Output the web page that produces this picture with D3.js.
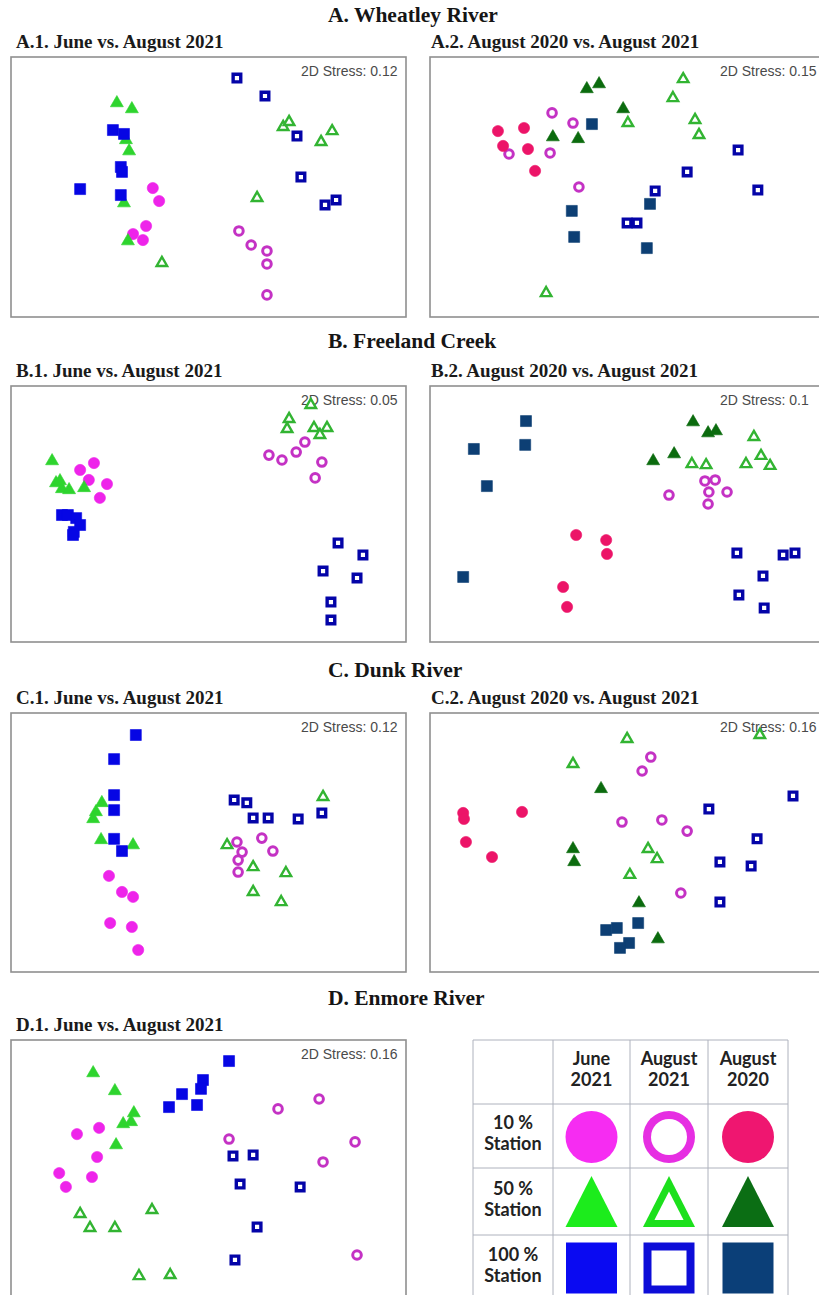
<!DOCTYPE html>
<html>
<head>
<meta charset="utf-8">
<script src="https://cdn.jsdelivr.net/npm/d3@7"></script>
<style>
  body { margin: 0; background: #fff; }
  svg { display: block; }
</style>
</head>
<body>
<script>
// ---- NMDS ordination coordinates (arbitrary units, 0-100 across each panel) ----
// Each entry: [group, [[x, y], ...]]

const wheatleyJuneAug = [
  ["jun21_10", [[35.9,49.6],[37.5,44.6],[34.2,35.0],[30.9,31.9],[33.4,29.6]]],
  ["aug21_10", [[57.7,33.1],[60.8,27.7],[64.8,25.4],[64.8,20.4],[64.8,8.5]]],
  ["jun21_50", [[26.8,82.3],[30.6,80.0],[29.9,63.8],[29.1,68.1],[28.6,43.8],[29.6,29.2]]],
  ["aug21_50", [[68.9,73.1],[70.4,75.0],[81.3,71.5],[78.5,67.3],[62.3,45.8],[38.2,20.8]]],
  ["jun21_100", [[25.8,71.9],[28.6,70.4],[27.8,57.7],[28.1,55.8],[17.5,49.2],[27.8,46.9]]],
  ["aug21_100", [[57.2,91.9],[64.3,85.0],[72.4,69.6],[73.4,53.8],[79.5,43.1],[82.3,45.0]]]
];

const wheatleyAugAug = [
  ["aug20_10", [[17.2,71.5],[23.8,72.7],[18.5,65.8],[24.8,64.6],[26.6,56.2]]],
  ["aug21_10", [[30.9,78.5],[36.2,74.6],[20.0,62.7],[30.4,63.1],[37.7,50.0]]],
  ["aug20_50", [[39.7,87.7],[42.8,89.6],[48.9,80.0],[31.1,69.2],[37.5,68.5]]],
  ["aug21_50", [[64.1,91.5],[61.5,84.2],[50.1,74.6],[67.1,75.8],[68.1,70.0],[29.4,9.2]]],
  ["aug20_100", [[41.0,74.2],[35.9,40.8],[36.5,30.8],[55.7,43.5],[54.9,26.5]]],
  ["aug21_100", [[78.0,64.2],[65.1,55.8],[57.0,48.5],[49.9,36.2],[52.4,36.2],[83.0,48.8]]]
];

const freelandJuneAug = [
  ["jun21_10", [[17.5,67.2],[21.0,69.9],[19.7,63.3],[24.3,61.7],[22.5,56.3]]],
  ["aug21_10", [[65.3,73.0],[68.6,71.1],[72.2,74.2],[74.4,78.1],[78.7,70.3],[77.0,64.1]]],
  ["jun21_50", [[10.4,70.7],[11.4,62.1],[12.9,59.8],[14.7,59.4],[18.5,60.2],[12.4,62.9]]],
  ["aug21_50", [[75.9,92.6],[70.4,87.1],[69.9,83.2],[76.7,83.6],[80.0,83.6],[78.2,80.9]]],
  ["jun21_100", [[12.9,49.6],[14.4,49.6],[16.5,48.4],[17.5,45.7],[15.9,43.0],[15.7,41.8]]],
  ["aug21_100", [[82.8,38.7],[89.1,34.0],[79.0,27.7],[87.6,25.0],[81.0,15.6],[81.0,8.6]]]
];

const freelandAugAug = [
  ["aug20_10", [[37.0,41.8],[44.6,39.8],[44.8,34.4],[33.7,21.5],[34.7,13.7]]],
  ["aug21_10", [[69.6,62.9],[72.2,63.3],[70.6,58.6],[60.5,57.4],[75.2,58.6],[70.4,53.9]]],
  ["aug20_50", [[66.6,85.9],[70.4,81.6],[72.4,82.4],[61.8,73.4],[56.5,70.7]]],
  ["aug21_50", [[82.0,80.1],[83.8,72.7],[80.0,69.5],[86.1,68.8],[66.3,69.5],[69.9,69.1]]],
  ["aug20_100", [[24.3,86.3],[24.1,77.0],[11.1,75.4],[14.4,60.9],[8.4,25.4]]],
  ["aug21_100", [[77.7,34.8],[89.4,34.0],[92.4,34.8],[84.3,25.8],[78.2,18.4],[84.6,13.3]]]
];

const dunkJuneAug = [
  ["jun21_10", [[24.8,37.1],[28.1,30.9],[30.9,29.0],[25.1,18.9],[30.6,17.4],[32.2,8.5]]],
  ["aug21_10", [[57.2,50.2],[63.5,51.7],[58.5,46.3],[66.3,46.7],[57.5,43.2],[57.5,38.6]]],
  ["jun21_50", [[23.0,65.3],[21.5,61.8],[20.8,59.1],[22.8,51.0],[30.9,49.0]]],
  ["aug21_50", [[79.0,67.6],[54.7,49.0],[61.3,40.5],[69.6,38.2],[61.3,30.9],[68.4,27.0]]],
  ["jun21_100", [[31.6,91.5],[26.1,82.2],[26.1,68.3],[26.1,62.5],[26.1,51.4],[28.1,46.7]]],
  ["aug21_100", [[56.5,66.4],[59.7,65.3],[61.3,59.5],[65.1,59.5],[72.7,59.1],[78.7,61.4]]]
];

const dunkAugAug = [
  ["aug20_10", [[8.4,61.4],[8.6,59.1],[9.1,50.2],[23.3,61.8],[15.7,44.4]]],
  ["aug21_10", [[55.9,83.0],[53.7,77.6],[48.6,57.9],[58.7,58.7],[65.1,54.4],[63.5,30.5]]],
  ["aug20_50", [[43.3,70.7],[36.2,47.5],[36.5,42.5],[52.9,26.6],[57.7,12.7]]],
  ["aug21_50", [[49.9,90.0],[36.2,80.3],[83.5,91.5],[55.2,47.5],[57.5,43.6],[50.6,37.5]]],
  ["aug20_100", [[44.6,16.2],[47.3,17.0],[52.7,18.9],[50.4,11.2],[48.1,9.3]]],
  ["aug21_100", [[70.6,62.9],[91.9,68.0],[82.8,51.4],[73.4,42.5],[81.3,40.9],[73.4,27.0]]]
];

const enmoreJuneAug = [
  ["jun21_10", [[22.3,66.2],[16.7,63.8],[21.8,55.0],[12.2,48.8],[20.5,47.3],[13.9,43.5]]],
  ["aug21_10", [[67.6,73.5],[78.0,77.3],[55.2,61.9],[87.1,60.8],[79.0,53.1],[87.6,17.3]]],
  ["jun21_50", [[20.8,87.3],[26.3,80.4],[31.1,71.9],[28.4,67.7],[30.4,68.5],[26.6,59.6]]],
  ["aug21_50", [[17.5,33.1],[20.0,27.7],[26.3,27.7],[35.7,34.6],[32.4,9.2],[40.3,9.6]]],
  ["jun21_100", [[55.2,91.9],[48.6,84.6],[48.1,81.2],[43.3,79.2],[40.0,74.2],[47.1,75.0]]],
  ["aug21_100", [[56.2,55.4],[61.3,55.8],[58.0,44.6],[73.2,43.5],[62.3,28.1],[56.7,15.4]]]
];

// ---- Labels ----
const sectionTitles = ["A. Wheatley River", "B. Freeland Creek", "C. Dunk River", "D. Enmore River"];
const panelTitles = [
  "A.1. June vs. August 2021", "A.2. August 2020 vs. August 2021",
  "B.1. June vs. August 2021", "B.2. August 2020 vs. August 2021",
  "C.1. June vs. August 2021", "C.2. August 2020 vs. August 2021",
  "D.1. June vs. August 2021"
];
const stressValues = [0.12, 0.15, 0.05, 0.1, 0.12, 0.16, 0.16];
const legendColumns = [["June", "2021"], ["August", "2021"], ["August", "2020"]];
const legendRows = [["10 %", "Station"], ["50 %", "Station"], ["100 %", "Station"]];
const legendGroups = [
  ["jun21_10", "aug21_10", "aug20_10"],
  ["jun21_50", "aug21_50", "aug20_50"],
  ["jun21_100", "aug21_100", "aug20_100"]
];

// ---- Marker styles per sampling group ----
const groupOrder = ["jun21_10","aug21_10","aug20_10","jun21_50","aug21_50","aug20_50","jun21_100","aug21_100","aug20_100"];
const styles = {
  jun21_10:  { shape: "circle",   open: false, color: "#ee24ea", legend: "#f62cf2" },
  aug21_10:  { shape: "circle",   open: true,  color: "#c432c4", legend: "#e62ee2" },
  aug20_10:  { shape: "circle",   open: false, color: "#ec1468", legend: "#ef1670" },
  jun21_50:  { shape: "triangle", open: false, color: "#2ed42e", legend: "#1cec1c" },
  aug21_50:  { shape: "triangle", open: true,  color: "#32b432", legend: "#1ce01c" },
  aug20_50:  { shape: "triangle", open: false, color: "#0b6b0e", legend: "#0b6e14" },
  jun21_100: { shape: "square",   open: false, color: "#0606e4", legend: "#0a0af2" },
  aug21_100: { shape: "square",   open: true,  color: "#0404a8", legend: "#0d0dd8" },
  aug20_100: { shape: "square",   open: false, color: "#0d3f74", legend: "#0b3f78" }
};

// ---- Layout ----
const W = 819, H = 1295;
const colLeft = [11, 430];
const titleX = [16, 431];
const panelW = 395;
const rowTop = [57, 386, 713, 1040];
const rowBottom = [317, 642, 972, 1300];
const sectionY = [22, 348, 677, 1005];

const panels = [
  { data: wheatleyJuneAug, row: 0, col: 0 },
  { data: wheatleyAugAug,  row: 0, col: 1 },
  { data: freelandJuneAug, row: 1, col: 0 },
  { data: freelandAugAug,  row: 1, col: 1 },
  { data: dunkJuneAug,     row: 2, col: 0 },
  { data: dunkAugAug,      row: 2, col: 1 },
  { data: enmoreJuneAug,   row: 3, col: 0 }
];

const svg = d3.select("body").append("svg")
  .attr("width", W).attr("height", H)
  .attr("viewBox", `0 0 ${W} ${H}`);

const serif = "'Liberation Serif', 'Times New Roman', serif";

// Section headings
svg.selectAll("text.section")
  .data(sectionTitles)
  .join("text")
  .attr("class", "section")
  .attr("x", 328)
  .attr("y", (d, i) => sectionY[i])
  .attr("font-family", serif)
  .attr("font-weight", "bold")
  .attr("font-size", 21.5)
  .attr("fill", "#151515")
  .text(d => d);

// Symbol generators for the ordination points
const symbolFor = {
  circle:   { filled: d3.symbol(d3.symbolCircle, Math.PI * 5.6 * 5.6),  open: d3.symbol(d3.symbolCircle, Math.PI * 4.3 * 4.3), sw: 3 },
  triangle: { filled: d3.symbol(d3.symbolTriangle, 0.433 * 13 * 13),    open: d3.symbol(d3.symbolTriangle, 0.433 * 10.5 * 10.5), sw: 2.4 },
  square:   { filled: d3.symbol(d3.symbolSquare, 11 * 11),              open: d3.symbol(d3.symbolSquare, 7.6 * 7.6), sw: 3.4 }
};

panels.forEach((p, i) => {
  const L = colLeft[p.col], T = rowTop[p.row], B = rowBottom[p.row];
  const x = d3.scaleLinear().domain([0, 100]).range([L, L + panelW]);
  const y = d3.scaleLinear().domain([0, 100]).range([B, T]);
  const g = svg.append("g");

  g.append("rect")
    .attr("x", L).attr("y", T)
    .attr("width", panelW).attr("height", B - T)
    .attr("fill", "#fff")
    .attr("stroke", "#8f8f8f")
    .attr("stroke-width", 1.6);

  g.append("text")
    .attr("x", titleX[p.col]).attr("y", T - 9)
    .attr("font-family", serif)
    .attr("font-weight", "bold")
    .attr("font-size", 19)
    .attr("fill", "#1a1a1a")
    .text(panelTitles[i]);

  g.append("text")
    .attr("x", L + 290).attr("y", T + 19)
    .attr("font-family", "'Liberation Sans', Arial, sans-serif")
    .attr("font-size", 14)
    .attr("fill", "#4a4a4a")
    .text("2D Stress: " + stressValues[i]);

  const pts = [];
  p.data
    .slice()
    .sort((a, b) => groupOrder.indexOf(a[0]) - groupOrder.indexOf(b[0]))
    .forEach(([grp, list]) => list.forEach(([vx, vy]) => pts.push({ grp, vx, vy })));

  g.selectAll("path.pt")
    .data(pts)
    .join("path")
    .attr("class", "pt")
    .attr("transform", d => `translate(${x(d.vx)},${y(d.vy)})`)
    .attr("d", d => {
      const s = styles[d.grp], gen = symbolFor[s.shape];
      return s.open ? gen.open() : gen.filled();
    })
    .attr("fill", d => styles[d.grp].open ? "#fff" : styles[d.grp].color)
    .attr("stroke", d => styles[d.grp].color)
    .attr("stroke-width", d => styles[d.grp].open ? symbolFor[styles[d.grp].shape].sw : 0.6)
    .attr("stroke-linejoin", "miter");
});

// ---- Legend table ----
const colX = [473, 553, 630, 708, 788];
const rowY = [1040, 1104, 1168, 1235, 1300];
const lg = svg.append("g");
const sans = "Lato, 'Open Sans', sans-serif";
const lineGap = 21;

colX.forEach(cx => lg.append("line")
  .attr("x1", cx).attr("x2", cx).attr("y1", rowY[0]).attr("y2", rowY[rowY.length - 1])
  .attr("stroke", "#aeb2bd").attr("stroke-width", 1));
rowY.forEach(ry => lg.append("line")
  .attr("x1", colX[0]).attr("x2", colX[colX.length - 1]).attr("y1", ry).attr("y2", ry)
  .attr("stroke", "#aeb2bd").attr("stroke-width", 1));

const mid = (a, b) => (a + b) / 2;

legendColumns.forEach((lines, c) => {
  const cx = mid(colX[c + 1], colX[c + 2]);
  lines.forEach((t, k) => lg.append("text")
    .attr("x", cx).attr("y", 1065 + k * lineGap)
    .attr("text-anchor", "middle")
    .attr("font-family", sans).attr("font-weight", "bold").attr("font-size", 18)
    .attr("fill", "#222").text(t));
});

legendRows.forEach((lines, r) => {
  const cy = mid(rowY[r + 1], rowY[r + 2]);
  lines.forEach((t, k) => lg.append("text")
    .attr("x", mid(colX[0], colX[1])).attr("y", cy - 7 + k * lineGap)
    .attr("text-anchor", "middle")
    .attr("font-family", sans).attr("font-weight", "bold").attr("font-size", 18)
    .attr("fill", "#222").text(t));
});

function trianglePts(cx, cy, w, h) {
  return [[cx, cy - h / 2], [cx + w / 2, cy + h / 2], [cx - w / 2, cy + h / 2]];
}
function insetTriangle(pts, t) {
  // shrink a triangle about its incenter so the band between them has width t
  const d = (a, b) => Math.hypot(a[0] - b[0], a[1] - b[1]);
  const [A, B, C] = pts;
  const a = d(B, C), b = d(A, C), c = d(A, B), per = a + b + c;
  const I = [(a * A[0] + b * B[0] + c * C[0]) / per, (a * A[1] + b * B[1] + c * C[1]) / per];
  const area = Math.abs((B[0] - A[0]) * (C[1] - A[1]) - (C[0] - A[0]) * (B[1] - A[1])) / 2;
  const r = 2 * area / per, k = (r - t) / r;
  return pts.map(P => [I[0] + k * (P[0] - I[0]), I[1] + k * (P[1] - I[1])]);
}
const poly = pts => "M" + pts.map(p => p.join(",")).join("L") + "Z";

legendGroups.forEach((rowGroups, r) => {
  const cy = mid(rowY[r + 1], rowY[r + 2]);
  rowGroups.forEach((grp, c) => {
    const cx = mid(colX[c + 1], colX[c + 2]);
    const s = styles[grp];
    if (s.shape === "circle") {
      lg.append("circle").attr("cx", cx).attr("cy", cy + 1).attr("r", 26).attr("fill", s.legend);
      if (s.open) lg.append("circle").attr("cx", cx).attr("cy", cy + 1).attr("r", 18).attr("fill", "#fff");
    } else if (s.shape === "triangle") {
      const outer = trianglePts(cx, cy, 52, 51);
      lg.append("path").attr("d", poly(outer)).attr("fill", s.legend);
      if (s.open) lg.append("path").attr("d", poly(insetTriangle(outer, 7))).attr("fill", "#fff");
    } else {
      lg.append("rect").attr("x", cx - 25.5).attr("y", cy - 25).attr("width", 51).attr("height", 51).attr("fill", s.legend);
      if (s.open) lg.append("rect").attr("x", cx - 17.5).attr("y", cy - 17).attr("width", 35).attr("height", 35).attr("fill", "#fff");
    }
  });
});
</script>
</body>
</html>
